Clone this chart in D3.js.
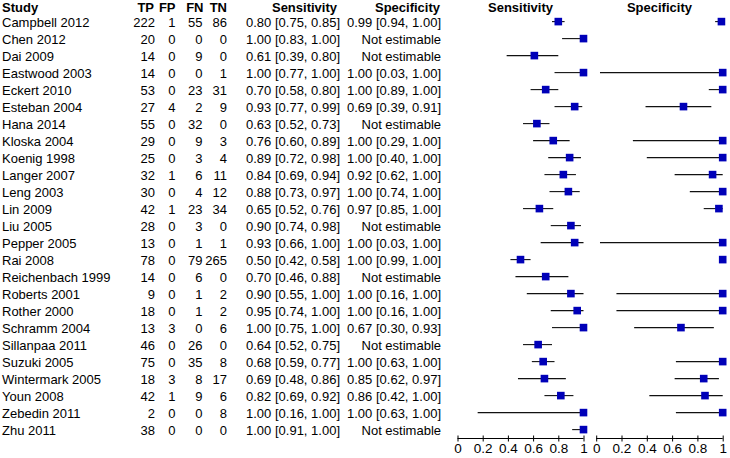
<!DOCTYPE html>
<html><head><meta charset="utf-8">
<script src="https://cdn.jsdelivr.net/npm/d3@7"></script>
<style>body{margin:0;background:#fff}svg{display:block}text{font-family:"Liberation Sans",Arial,sans-serif;fill:#000}</style>
</head><body>
<script>
const studies = ["Campbell 2012","Chen 2012","Dai 2009","Eastwood 2003","Eckert 2010","Esteban 2004","Hana 2014","Kloska 2004","Koenig 1998","Langer 2007","Leng 2003","Lin 2009","Liu 2005","Pepper 2005","Rai 2008","Reichenbach 1999","Roberts 2001","Rother 2000","Schramm 2004","Sillanpaa 2011","Suzuki 2005","Wintermark 2005","Youn 2008","Zebedin 2011","Zhu 2011"];
const TP = [222,20,14,14,53,27,55,29,25,32,30,42,28,13,78,14,9,18,13,46,75,18,42,2,38];
const FP = [1,0,0,0,0,4,0,0,0,1,0,1,0,0,0,0,0,0,3,0,0,3,1,0,0];
const FN = [55,0,9,0,23,2,32,9,3,6,4,23,3,1,79,6,1,1,0,26,35,8,9,0,0];
const TN = [86,0,0,1,31,9,0,3,4,11,12,34,0,1,265,0,2,2,6,0,8,17,6,8,0];
const sens   = [0.80,1.00,0.61,1.00,0.70,0.93,0.63,0.76,0.89,0.84,0.88,0.65,0.90,0.93,0.50,0.70,0.90,0.95,1.00,0.64,0.68,0.69,0.82,1.00,1.00];
const sensLo = [0.75,0.83,0.39,0.77,0.58,0.77,0.52,0.60,0.72,0.69,0.73,0.52,0.74,0.66,0.42,0.46,0.55,0.74,0.75,0.52,0.59,0.48,0.69,0.16,0.91];
const sensHi = [0.85,1.00,0.80,1.00,0.80,0.99,0.73,0.89,0.98,0.94,0.97,0.76,0.98,1.00,0.58,0.88,1.00,1.00,1.00,0.75,0.77,0.86,0.92,1.00,1.00];
const spec   = [0.99,null,null,1.00,1.00,0.69,null,1.00,1.00,0.92,1.00,0.97,null,1.00,1.00,null,1.00,1.00,0.67,null,1.00,0.85,0.86,1.00,null];
const specLo = [0.94,null,null,0.03,0.89,0.39,null,0.29,0.40,0.62,0.74,0.85,null,0.03,0.99,null,0.16,0.16,0.30,null,0.63,0.62,0.42,0.63,null];
const specHi = [1.00,null,null,1.00,1.00,0.91,null,1.00,1.00,1.00,1.00,1.00,null,1.00,1.00,null,1.00,1.00,0.93,null,1.00,0.97,1.00,1.00,null];
const axisTicks = [0,0.2,0.4,0.6,0.8,1];

const W=730,H=458;
const svg=d3.select("body").append("svg").attr("width",W).attr("height",H);
const fs=13;
const y=d3.scaleLinear().domain([0,studies.length-1]).range([21.6,429.6]);
const xS=d3.scaleLinear().domain([0,1]).range([457.5,583.5]);
const xP=d3.scaleLinear().domain([0,1]).range([596.2,722.7]);
const f2=d3.format(".2f");

// headers
const hdr=svg.append("g").attr("font-weight","bold").attr("font-size",fs);
hdr.append("text").attr("x",2).attr("y",12).text("Study");
[["TP",154],["FP",175.5],["FN",203.5],["TN",227],["Sensitivity",337],["Specificity",440]].forEach(([t,x])=>{
  hdr.append("text").attr("x",x).attr("y",12).attr("text-anchor","end").text(t);
});
hdr.append("text").attr("x",(xS(0)+xS(1))/2).attr("y",12).attr("text-anchor","middle").text("Sensitivity");
hdr.append("text").attr("x",(xP(0)+xP(1))/2).attr("y",12).attr("text-anchor","middle").text("Specificity");

// table rows
const rows=svg.append("g").attr("font-size",fs);
studies.forEach((s,i)=>{
  const by=y(i)+5.2;
  rows.append("text").attr("x",2).attr("y",by).text(s);
  [[TP[i],155],[FP[i],175.5],[FN[i],202.5],[TN[i],227]].forEach(([v,x])=>{
    rows.append("text").attr("x",x).attr("y",by).attr("text-anchor","end").text(v);
  });
  rows.append("text").attr("x",340).attr("y",by).attr("text-anchor","end")
    .text(`${f2(sens[i])} [${f2(sensLo[i])}, ${f2(sensHi[i])}]`);
  rows.append("text").attr("x",441).attr("y",by).attr("text-anchor","end")
    .text(spec[i]==null?"Not estimable":`${f2(spec[i])} [${f2(specLo[i])}, ${f2(specHi[i])}]`);
});

// forest marks
function forest(x,est,lo,hi){
  const g=svg.append("g");
  studies.forEach((s,i)=>{
    if(est[i]==null) return;
    g.append("line").attr("x1",x(lo[i])).attr("x2",x(hi[i])).attr("y1",y(i)).attr("y2",y(i))
      .attr("stroke","#111").attr("stroke-width",1.1);
    g.append("rect").attr("x",x(est[i])-3.8).attr("y",y(i)-3.8).attr("width",7.6).attr("height",7.6)
      .attr("fill","#0000b8");
  });
  const ax=svg.append("g").attr("transform","translate(0,438.5)")
    .call(d3.axisBottom(x).tickValues(axisTicks).tickFormat(d=>d3.format("")(d)).tickSizeInner(3).tickSizeOuter(0));
  ax.select(".domain").attr("stroke","#000").attr("d",`M${x(0)},0H${x(1)}`);
  ax.selectAll(".tick line").attr("y1",-3).attr("y2",3).attr("stroke","#000");
  ax.selectAll(".tick text").attr("font-size",13.5).attr("font-family","Liberation Sans, Arial, sans-serif").attr("dy",null).attr("y",14.5);
}
forest(xS,sens,sensLo,sensHi);
forest(xP,spec,specLo,specHi);
</script>
</body></html>
